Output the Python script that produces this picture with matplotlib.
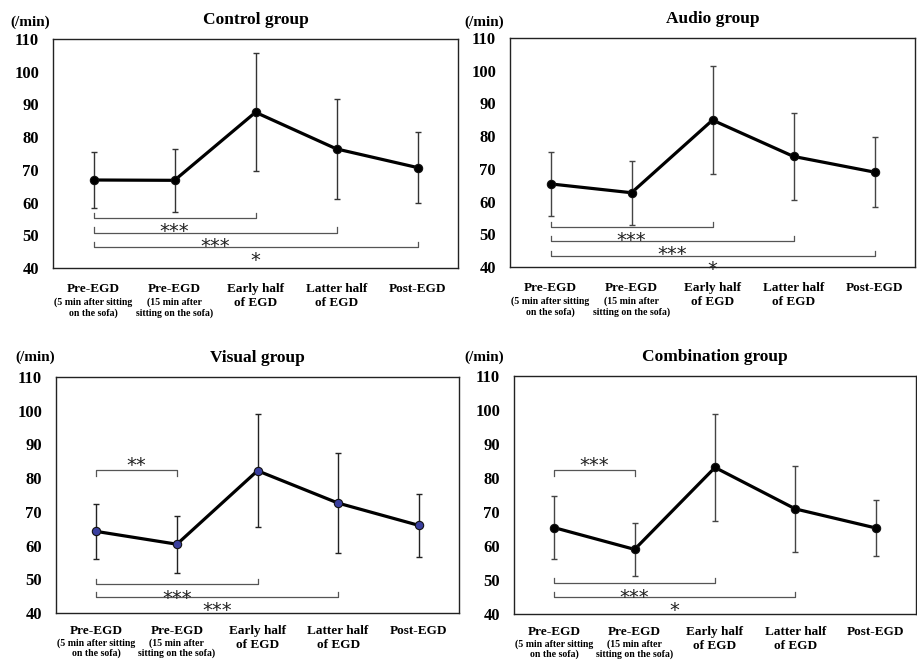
import matplotlib
matplotlib.use("Agg")
import matplotlib.pyplot as plt
from matplotlib.transforms import blended_transform_factory

plt.rcParams['font.family'] = ['Liberation Serif', 'DejaVu Serif']
plt.rcParams['font.weight'] = 'bold'

# category labels (main line + small sub-line)
cat_main = ["Pre-EGD", "Pre-EGD", "Early half\nof EGD", "Latter half\nof EGD", "Post-EGD"]
cat_sub = ["(5 min after sitting\non the sofa)", "(15 min after\nsitting on the sofa)", "", "", ""]

# heart rate mean and SD (/min)
control_mean = [66.9, 66.8, 87.6, 76.4, 70.7]
control_sd = [8.7, 9.7, 18.0, 15.3, 10.8]
audio_mean = [65.4, 62.7, 84.9, 73.8, 69.0]
audio_sd = [9.8, 9.8, 16.5, 13.2, 10.8]
visual_mean = [64.2, 60.4, 82.2, 72.6, 66.0]
visual_sd = [8.1, 8.4, 16.7, 14.8, 9.4]
combo_mean = [65.4, 59.0, 83.1, 70.9, 65.3]
combo_sd = [9.3, 7.8, 15.8, 12.7, 8.3]

# significance brackets: (from, to, y, label, "up"=ends point up / "down")
control_sig = [(0, 2, 55.2, "***", "up"), (0, 3, 50.8, "***", "up"), (0, 4, 46.5, "*", "up")]
audio_sig = [(0, 2, 52.2, "***", "up"), (0, 3, 47.9, "***", "up"), (0, 4, 43.3, "*", "up")]
visual_sig = [(0, 1, 82.3, "**", "down"), (0, 2, 48.5, "***", "up"), (0, 3, 44.7, "***", "up")]
combo_sig = [(0, 1, 82.3, "***", "down"), (0, 2, 49.1, "***", "up"), (0, 3, 45.0, "*", "up")]

W, H = 917, 660
fig = plt.figure(figsize=(W / 100, H / 100), dpi=100)


def px_axes(left, top, right, bottom):
    return fig.add_axes([left / W, (H - bottom) / H, (right - left) / W, (bottom - top) / H])


def panel(ax, title, mean, sd, sig, face, ecol, unit_xy, lab_off):
    x = list(range(len(mean)))
    ax.errorbar(x, mean, yerr=sd, fmt="none", ecolor=ecol, elinewidth=1.0, capsize=2.5, capthick=1.0, zorder=2)
    ax.plot(x, mean, "-", color="black", lw=2.3, zorder=3)
    ax.plot(x, mean, "o", ms=6, mfc=face, mec="#111111", mew=0.8, zorder=4)
    ax.set_xlim(-0.5, 4.5)
    ax.set_ylim(40, 110)
    ax.set_yticks(range(40, 111, 10))
    ax.set_xticks([])
    ax.tick_params(axis="y", length=0, pad=10, labelsize=12)
    for lab in ax.get_yticklabels():
        lab.set_fontweight("bold")
    for s in ax.spines.values():
        s.set_linewidth(1.0)
        s.set_color("#222222")
    ax.set_title(title, fontsize=12.5, fontweight="bold", pad=11)
    fig.text(unit_xy[0] / W, 1 - unit_xy[1] / H, "(/min)", fontsize=11, fontweight="bold",
             ha="center", va="center")

    # significance brackets
    for i, j, y, lab, d in sig:
        h = 1.6 if d == "up" else -1.6
        ax.plot([i, i, j, j], [y + h, y, y, y + h], color="#555555", lw=0.9, zorder=2)
        ty = y - 4.1 if d == "up" else y + 1.4
        ax.text((i + j) / 2, ty, lab, ha="center", va="center", fontsize=14,
                fontweight="normal", family="DejaVu Sans", color="#222222")

    # category labels under the axis (offsets in pixels below the frame)
    ax_h = ax.get_position().height * H
    main_off, sub_off, sub_ls = lab_off
    tr = blended_transform_factory(ax.transData, ax.transAxes)
    for k in x:
        ax.text(k, -main_off / ax_h, cat_main[k], transform=tr, ha="center", va="top", fontsize=9.5,
                fontweight="bold", linespacing=1.25)
        if cat_sub[k]:
            ax.text(k, -sub_off / ax_h, cat_sub[k], transform=tr, ha="center", va="top", fontsize=7.1,
                    fontweight="bold", linespacing=sub_ls)


panel(px_axes(53, 39, 458, 268), "Control group", control_mean, control_sd, control_sig,
      "black", "#333333", (30, 22), (14.7, 29.8, 1.15))
panel(px_axes(510, 38, 915, 267), "Audio group", audio_mean, audio_sd, audio_sig,
      "black", "#444444", (484, 22), (14.7, 29.8, 1.15))
panel(px_axes(56, 377, 459, 613), "Visual group", visual_mean, visual_sd, visual_sig,
      "#3a3f9e", "#222222", (35, 357), (12.0, 25.5, 1.05))
panel(px_axes(514, 376, 916, 614), "Combination group", combo_mean, combo_sd, combo_sig,
      "black", "#444444", (484, 357), (12.0, 25.5, 1.05))

fig.savefig("out.png", dpi=100, facecolor="white")
